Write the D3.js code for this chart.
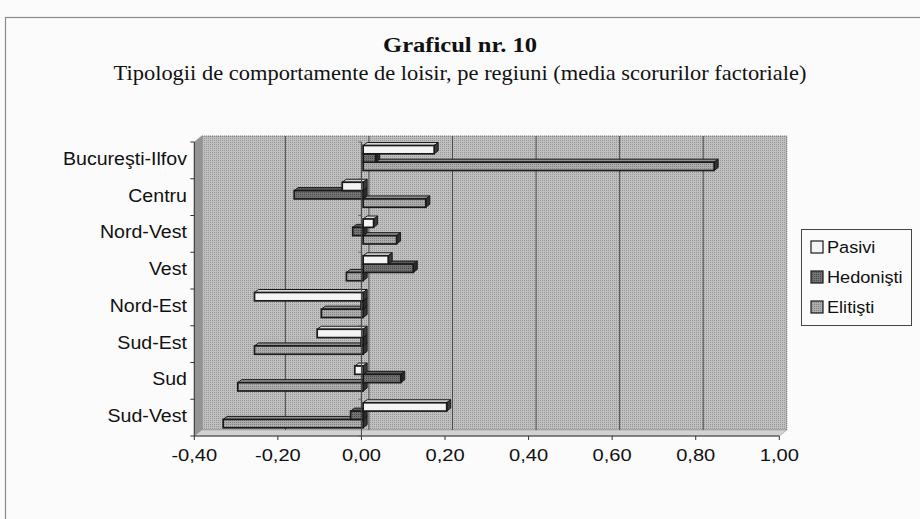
<!DOCTYPE html>
<html>
<head>
<meta charset="utf-8">
<script src="https://cdn.jsdelivr.net/npm/d3@7"></script>
<style>
  html, body { margin: 0; padding: 0; background: #fbfbfb; }
  svg { display: block; }
</style>
</head>
<body>
<svg id="chart" width="920" height="519"></svg>
<script>
// Regions and mean factor scores per leisure-behaviour type
const categories = ["Bucureşti-Ilfov", "Centru", "Nord-Vest", "Vest", "Nord-Est", "Sud-Est", "Sud", "Sud-Vest"];
const seriesNames = ["Pasivi", "Hedonişti", "Elitişti"];
const pasivi    = [0.17, -0.05, 0.025, 0.06, -0.26, -0.11, -0.02, 0.20];
const hedonisti = [0.03, -0.165, -0.025, 0.12, -0.005, -0.005, 0.09, -0.03];
const elitisti  = [0.84, 0.15, 0.08, -0.04, -0.10, -0.26, -0.30, -0.335];
const tickValues = [-0.4, -0.2, 0, 0.2, 0.4, 0.6, 0.8, 1.0];
const titleText = "Graficul nr. 10";
const subtitleText = "Tipologii de comportamente de loisir, pe regiuni (media scorurilor factoriale)";

const seriesValues = [pasivi, hedonisti, elitisti];

const svg = d3.select("#chart");
const defs = svg.append("defs");

// fine halftone-like fills
function dotPattern(id, base, dot) {
  const p = defs.append("pattern").attr("id", id)
    .attr("width", 2).attr("height", 2).attr("patternUnits", "userSpaceOnUse");
  p.append("rect").attr("width", 2).attr("height", 2).attr("fill", base);
  p.append("rect").attr("width", 1).attr("height", 1).attr("fill", dot);
}
dotPattern("wallFill", "#c0c0c0", "#969696");
dotPattern("hedFill", "#747474", "#4a4a4a");
dotPattern("eliFill", "#adadad", "#828282");
const seriesFill = ["#f4f4f4", "url(#hedFill)", "url(#eliFill)"];
const sideFill = ["#3a3a3a", "#2a2a2a", "#333333"];
const topFill = ["#d8d8d8", "#5a5a5a", "#8e8e8e"];

// geometry
const plotLeft = 194.3, plotRight = 779.3, plotTop = 142, plotBottom = 436;
const DX = 7.5, DY = -6;          // wall depth offset
const BDX = 4, BDY = -3;           // bar depth
const BAR_SHIFT = 1.7;             // bars sit slightly behind the front plane

const x = d3.scaleLinear().domain([-0.4, 1.0]).range([plotLeft, plotRight]);
const y0 = d3.scaleBand().domain(categories).range([plotTop, plotBottom]);
const y1 = d3.scaleBand().domain(seriesNames).range([3.5, 28.5]);

const locale = d3.formatLocale({ decimal: ",", thousands: ".", grouping: [3], currency: ["", ""], minus: "-" });
const fmt = locale.format(".2f");

// outer frame
svg.append("rect").attr("x", 5.5).attr("y", 17.5).attr("width", 960).attr("height", 560)
  .attr("fill", "none").attr("stroke", "#8c8c8c").attr("stroke-width", 1.2);

// stretched text helper
function label(g, tx, ty, text, opts) {
  return g.append("text")
    .attr("transform", `translate(${tx},${ty}) scale(${opts.sx || 1},1)`)
    .attr("text-anchor", opts.anchor || "start")
    .attr("font-family", opts.family || "'Liberation Sans', Arial, sans-serif")
    .attr("font-size", opts.size)
    .attr("font-weight", opts.weight || "normal")
    .attr("fill", "#111")
    .text(text);
}

// titles
label(svg, 460, 52, titleText, { anchor: "middle", size: 21, sx: 1.17, weight: "bold", family: "'Liberation Serif', 'Times New Roman', serif" });
label(svg, 460, 80, subtitleText, { anchor: "middle", size: 21, sx: 1.07, family: "'Liberation Serif', 'Times New Roman', serif" });

// back wall
const wall = svg.append("g");
wall.append("rect")
  .attr("x", x(-0.4) + DX).attr("y", plotTop + DY)
  .attr("width", x(1.0) - x(-0.4)).attr("height", plotBottom - plotTop)
  .attr("fill", "url(#wallFill)").attr("stroke", "#6a6a6a").attr("stroke-width", 1)
  .attr("stroke-dasharray", "1,1");

// left side wall
wall.append("polygon")
  .attr("points", [[plotLeft, plotTop], [plotLeft + DX, plotTop + DY], [plotLeft + DX, plotBottom + DY], [plotLeft, plotBottom]].join(" "))
  .attr("fill", "#949494").attr("stroke", "#808080").attr("stroke-width", 0.5);

// floor
wall.append("polygon")
  .attr("points", [[plotLeft, plotBottom], [plotLeft + DX, plotBottom + DY], [x(1.0) + DX, plotBottom + DY], [x(1.0), plotBottom]].join(" "))
  .attr("fill", "#d2d2d2").attr("stroke", "#9a9a9a").attr("stroke-width", 0.6);

// vertical gridlines on the back wall
wall.selectAll("line.grid")
  .data(tickValues.filter(v => v > -0.4 && v < 1.0))
  .join("line").attr("class", "grid")
  .attr("x1", d => x(d) + DX).attr("x2", d => x(d) + DX)
  .attr("y1", plotTop + DY).attr("y2", plotBottom + DY)
  .attr("stroke", "#4a4a4a").attr("stroke-width", 1);

// bars
const barsG = svg.append("g");
categories.forEach((cat, ci) => {
  // lower bars first so upper bars cover the shared faces
  for (let si = seriesNames.length - 1; si >= 0; si--) {
    const v = seriesValues[si][ci];
    const xa = x(Math.min(0, v)) + BAR_SHIFT;
    const xb = x(Math.max(0, v)) + BAR_SHIFT;
    const yt = y0(cat) + y1(seriesNames[si]);
    const h = y1.bandwidth();
    const g = barsG.append("g");
    g.append("polygon")
      .attr("points", [[xa, yt], [xa + BDX, yt + BDY], [xb + BDX, yt + BDY], [xb, yt]].join(" "))
      .attr("fill", topFill[si]).attr("stroke", "#1a1a1a").attr("stroke-width", 1);
    g.append("polygon")
      .attr("points", [[xb, yt], [xb + BDX, yt + BDY], [xb + BDX, yt + h + BDY], [xb, yt + h]].join(" "))
      .attr("fill", sideFill[si]).attr("stroke", "#1a1a1a").attr("stroke-width", 1);
    g.append("rect")
      .attr("x", xa).attr("y", yt).attr("width", Math.max(0.5, xb - xa)).attr("height", h)
      .attr("fill", seriesFill[si]).attr("stroke", "#1a1a1a").attr("stroke-width", 1.7);
  }
});

// axes: front left line, zero line, bottom line
const axes = svg.append("g").attr("stroke", "#333").attr("stroke-width", 1);
axes.append("line").attr("x1", plotLeft).attr("x2", plotLeft).attr("y1", plotTop).attr("y2", plotBottom);
axes.append("line").attr("x1", plotLeft).attr("x2", x(1.0)).attr("y1", plotBottom).attr("y2", plotBottom);
axes.append("line").attr("x1", x(0)).attr("x2", x(0)).attr("y1", plotTop).attr("y2", plotBottom).attr("stroke", "#444");
const boundaries = categories.map(c => y0(c)).concat([plotBottom]);
axes.selectAll("line.lt").data(boundaries).join("line").attr("class", "lt")
  .attr("x1", plotLeft - 4).attr("x2", plotLeft).attr("y1", d => d).attr("y2", d => d);
axes.selectAll("line.zt").data(boundaries).join("line").attr("class", "zt")
  .attr("x1", x(0) - 3).attr("x2", x(0)).attr("y1", d => d).attr("y2", d => d).attr("stroke", "#666");
axes.selectAll("line.bt").data(tickValues).join("line").attr("class", "bt")
  .attr("x1", d => x(d)).attr("x2", d => x(d)).attr("y1", plotBottom).attr("y2", plotBottom + 4);

// tick labels
const tickG = svg.append("g");
tickValues.forEach(v => label(tickG, x(v), 461, fmt(v), { anchor: "middle", size: 16.5, sx: 1.22 }));

// category labels
const catG = svg.append("g");
categories.forEach(c => label(catG, 187, y0(c) + y0.bandwidth() / 2 + 4.5, c, { anchor: "end", size: 17.5, sx: 1.12 }));

// legend
const lg = svg.append("g");
lg.append("rect").attr("x", 801.5).attr("y", 229.5).attr("width", 110).attr("height", 96)
  .attr("fill", "#fbfbfb").attr("stroke", "#444").attr("stroke-width", 1);
seriesNames.forEach((s, i) => {
  const cy = 247 + i * 30;
  lg.append("rect").attr("x", 811).attr("y", cy - 6).attr("width", 12).attr("height", 12)
    .attr("fill", seriesFill[i]).attr("stroke", "#1a1a1a").attr("stroke-width", 1.2);
  label(lg, 827, cy + 6, s, { size: 16.5, sx: 1.1 });
});
</script>
</body>
</html>
